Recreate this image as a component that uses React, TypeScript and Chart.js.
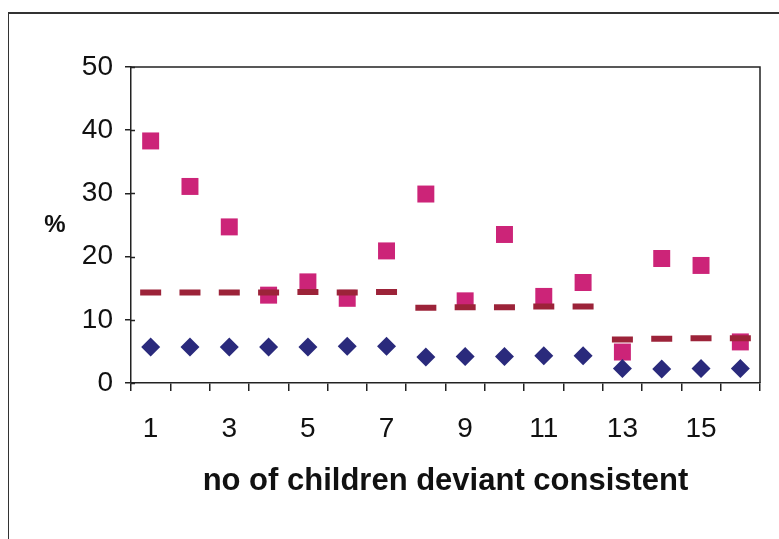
import React, { useEffect, useRef } from "react";
import { Chart, registerables } from "chart.js";

Chart.register(...registerables);

const categories = ["1","2","3","4","5","6","7","8","9","10","11","12","13","14","15","16"];
const lowPct = [5.7, 5.7, 5.7, 5.7, 5.7, 5.8, 5.8, 4.1, 4.2, 4.2, 4.3, 4.3, 2.3, 2.2, 2.3, 2.3];
const midPct = [14.3, 14.3, 14.3, 14.3, 14.4, 14.3, 14.4, 11.9, 12.0, 12.0, 12.1, 12.1, 6.9, 7.0, 7.1, 7.1];
const highPct = [38.3, 31.1, 24.7, 13.9, 16.0, 13.4, 20.9, 29.9, 13.0, 23.5, 13.7, 15.9, 4.9, 19.7, 18.6, 6.5];
const yTicks = [0, 10, 20, 30, 40, 50];
const xTitle = "no of children deviant consistent";
const yTitle = "%";

const FONT = "'Liberation Sans', Arial, sans-serif";

const framePlugin = {
  id: "framePlugin",
  afterDraw(chart: any) {
    const { ctx, chartArea } = chart;
    ctx.save();
    ctx.strokeStyle = "#222";
    ctx.lineWidth = 1.5;
    ctx.beginPath();
    ctx.moveTo(chartArea.left, chartArea.top);
    ctx.lineTo(chartArea.right, chartArea.top);
    ctx.lineTo(chartArea.right, chartArea.bottom);
    ctx.stroke();
    // small inward tick stubs on the y axis (cross ticks)
    const ys = chart.scales.y;
    ctx.beginPath();
    yTicks.forEach((v) => {
      const py = Math.round(ys.getPixelForValue(v)) + 0.5;
      ctx.moveTo(chartArea.left, py);
      ctx.lineTo(chartArea.left + 4, py);
    });
    ctx.stroke();
    ctx.fillStyle = "#111";
    ctx.font = "bold 24px " + FONT;
    ctx.textAlign = "center";
    ctx.textBaseline = "middle";
    ctx.fillText(yTitle, 55, 225);
    ctx.restore();
  },
};

export default function App() {
  const ref = useRef<HTMLCanvasElement | null>(null);
  useEffect(() => {
    if (!ref.current) return;
    const chart = new Chart(ref.current, {
      type: "line",
      data: {
        labels: categories,
        datasets: [
          {
            data: lowPct,
            showLine: false,
            pointStyle: "rectRot",
            pointRadius: 9.5,
            backgroundColor: "#2a2a7c",
            borderColor: "#2a2a7c",
            borderWidth: 0,
          },
          {
            data: midPct,
            showLine: false,
            pointStyle: "line",
            pointRadius: 10.5,
            backgroundColor: "#9c2339",
            borderColor: "#9c2339",
            borderWidth: 6,
          },
          {
            data: highPct,
            showLine: false,
            pointStyle: "rect",
            pointRadius: 12,
            backgroundColor: "#cc2478",
            borderColor: "#cc2478",
            borderWidth: 0,
          },
        ],
      },
      options: {
        responsive: false,
        animation: false,
        events: [],
        layout: { padding: { left: 0, top: 67, right: 19, bottom: 39 } },
        plugins: { legend: { display: false }, tooltip: { enabled: false } },
        scales: {
          x: {
            type: "category",
            offset: true,
            grid: { offset: true, drawOnChartArea: false, drawTicks: true, tickLength: 8, color: "#222", lineWidth: 1.5 },
            border: { color: "#222", width: 1.5 },
            ticks: {
              autoSkip: false,
              maxRotation: 0,
              padding: 21,
              color: "#111",
              font: { family: FONT, size: 28 },
              callback: (v: any, i: number) => (i % 2 === 0 ? categories[i] : ""),
            },
            title: {
              display: true,
              text: xTitle,
              color: "#111",
              font: { family: FONT, size: 31, weight: "bold" },
              padding: { top: 0, bottom: 0 },
            },
            afterFit: (s: any) => { s.height = 117; },
          },
          y: {
            min: 0,
            max: 50,
            afterBuildTicks: (s: any) => { s.ticks = yTicks.map((v) => ({ value: v })); },
            grid: { drawOnChartArea: false, drawTicks: true, tickLength: 6, color: "#222", lineWidth: 1.5 },
            border: { color: "#222", width: 1.5 },
            ticks: {
              padding: 12,
              color: "#111",
              font: { family: FONT, size: 28 },
            },
            afterFit: (s: any) => { s.width = 131; },
          },
        },
      },
      plugins: [framePlugin],
    } as any);
    return () => chart.destroy();
  }, []);

  return (
    <div style={{ position: "fixed", left: 0, top: 0, width: 779, height: 539, background: "#fff", overflow: "hidden" }}>
      <div style={{ position: "absolute", left: 8, top: 12, width: 800, height: 600, borderLeft: "1.5px solid #333", borderTop: "2px solid #333" }} />
      <canvas ref={ref} width={779} height={539} style={{ position: "absolute", left: 0, top: 0 }} />
    </div>
  );
}
